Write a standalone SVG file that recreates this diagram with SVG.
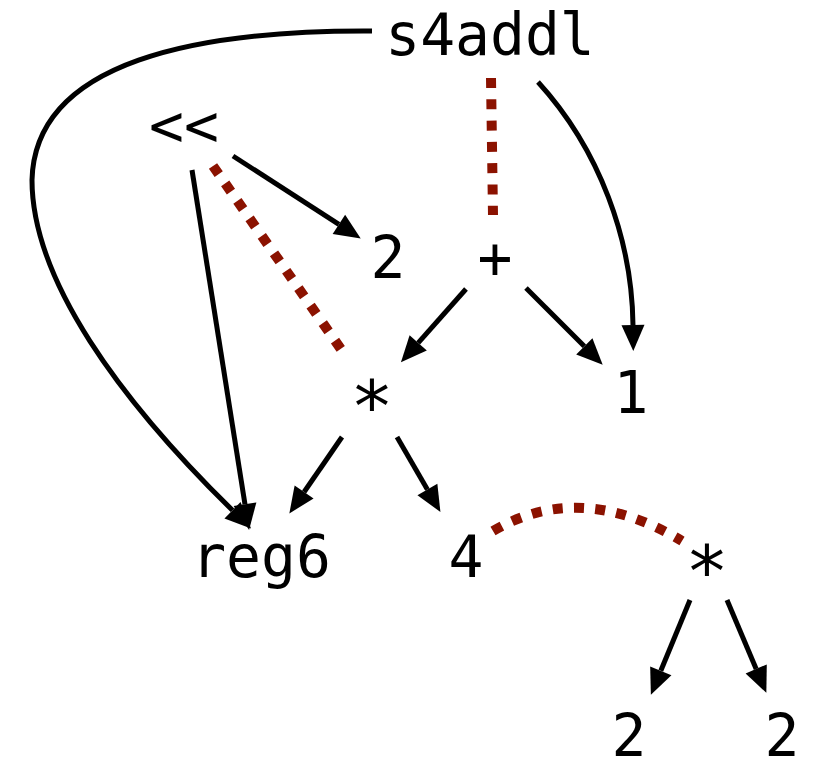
<svg xmlns="http://www.w3.org/2000/svg" width="816" height="759" viewBox="0 0 816 759">
<style>
text{font-family:"DejaVu Sans Mono","Liberation Mono",monospace;font-size:58px;fill:#000;text-anchor:middle}
.star{font-size:72px}
.e{fill:none;stroke:#000;stroke-width:5}
.d{fill:none;stroke:#8b1200;stroke-width:10;stroke-dasharray:10 11.3}
</style>
<defs>
<marker id="ah" markerUnits="userSpaceOnUse" markerWidth="27" markerHeight="24" refX="0" refY="11.5" orient="auto" overflow="visible">
<path d="M0,0 L26,11.5 L0,23 z" fill="#000"/>
</marker>
</defs>
<rect width="816" height="759" fill="#fff"/>
<g id="edges">
<path class="e" d="M372,31 C200,30 35,60 32,180 C32,280 120,400 232.5,510.3" marker-end="url(#ah)"/>
<path class="e" d="M538,82 C600,150 632,240 633,325" marker-end="url(#ah)"/>
<path class="d" d="M491,78 L493,215"/>
<path class="e" d="M233,156 L338.9,224.4" marker-end="url(#ah)"/>
<path class="e" d="M192,170 L245,504.3" marker-end="url(#ah)"/>
<path class="d" d="M213,166 L343,352"/>
<path class="e" d="M466,289 L418.2,342.8" marker-end="url(#ah)"/>
<path class="e" d="M526,288 L584.3,346.3" marker-end="url(#ah)"/>
<path class="e" d="M342,437 L304.1,492" marker-end="url(#ah)"/>
<path class="e" d="M397,437 L427.4,489.5" marker-end="url(#ah)"/>
<path class="d" d="M493,531 Q580,480 682,541"/>
<path class="e" d="M690,600 L660.8,670.8" marker-end="url(#ah)"/>
<path class="e" d="M727,600 L756.2,668.9" marker-end="url(#ah)"/>
</g>
<g id="n_s4addl"><text x="490" y="55">s4addl</text></g>
<g id="n_shl"><text x="184" y="146">&lt;&lt;</text></g>
<g id="n_2a"><text x="388" y="278">2</text></g>
<g id="n_plus"><text x="495" y="278">+</text></g>
<g id="n_mul1"><text class="star" x="372" y="431">*</text></g>
<g id="n_1"><text x="631" y="413">1</text></g>
<g id="n_reg6"><text x="261" y="577">reg6</text></g>
<g id="n_4"><text x="466" y="577">4</text></g>
<g id="n_mul2"><text class="star" x="707" y="596">*</text></g>
<g id="n_2b"><text x="629" y="756">2</text></g>
<g id="n_2c"><text x="782" y="756">2</text></g>
</svg>
